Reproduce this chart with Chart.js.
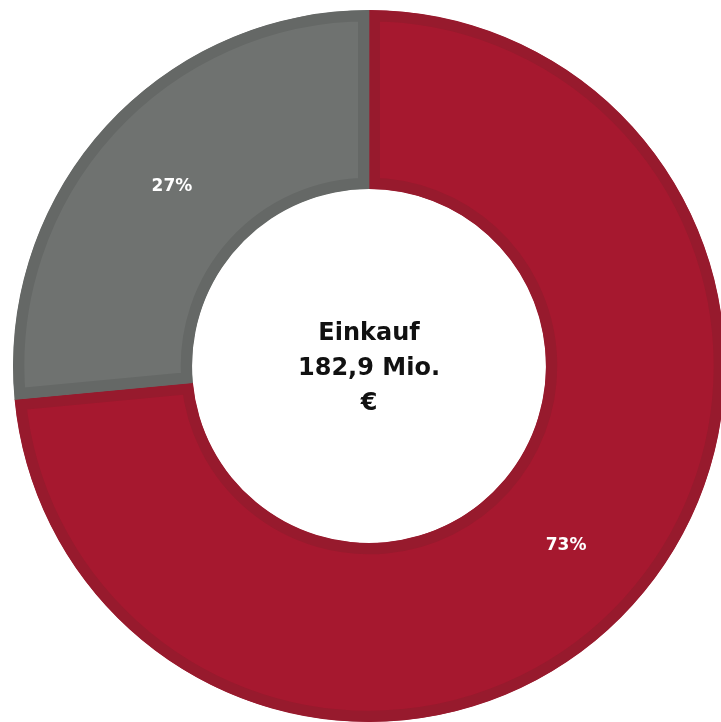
<!DOCTYPE html>
<html>
<head>
<meta charset="utf-8">
<script src="https://cdn.jsdelivr.net/npm/chart.js@4"></script>
<style>
  html, body { margin: 0; padding: 0; background: #ffffff; overflow: hidden; width: 721px; height: 722px; }
  #wrap { position: absolute; left: 0; top: 0; width: 738px; height: 732px; }
</style>
</head>
<body>
<div id="wrap"><canvas id="c"></canvas></div>
<script>
const categories = ["Anteil A", "Anteil B"];
const values = [73.5, 26.5];
const valueLabels = ["73%", "27%"];
const fillColors = ["#A6182F", "#6F7270"];
const borderColors = ["#971A2D", "#656866"];
const centerLines = ["Einkauf", "182,9 Mio.", "€"];

const labelPlugin = {
  id: 'labels',
  afterDatasetsDraw(chart) {
    const ctx = chart.ctx;
    const meta = chart.getDatasetMeta(0);
    ctx.save();
    ctx.fillStyle = '#ffffff';
    ctx.font = 'bold 17px "DejaVu Sans"';
    ctx.textAlign = 'center';
    ctx.textBaseline = 'middle';
    meta.data.forEach((arc, i) => {
      const p = arc.tooltipPosition();
      ctx.fillText(valueLabels[i], p.x, p.y);
    });
    const a = meta.data[0];
    ctx.fillStyle = '#111111';
    ctx.font = 'bold 24px "DejaVu Sans"';
    const lh = 35;
    const y0 = a.y + 3 - lh * (centerLines.length - 1) / 2;
    centerLines.forEach((t, i) => ctx.fillText(t, a.x, y0 + i * lh));
    ctx.restore();
  }
};

new Chart(document.getElementById('c'), {
  type: 'doughnut',
  data: {
    labels: categories,
    datasets: [{
      data: values,
      backgroundColor: fillColors,
      borderColor: borderColors,
      borderWidth: 11,
      borderAlign: 'inner',
      hoverOffset: 0
    }]
  },
  options: {
    responsive: true,
    maintainAspectRatio: false,
    animation: false,
    radius: 356,
    cutout: '49.7%',
    layout: { padding: 0 },
    plugins: { legend: { display: false }, tooltip: { enabled: false } }
  },
  plugins: [labelPlugin]
});
</script>
</body>
</html>
